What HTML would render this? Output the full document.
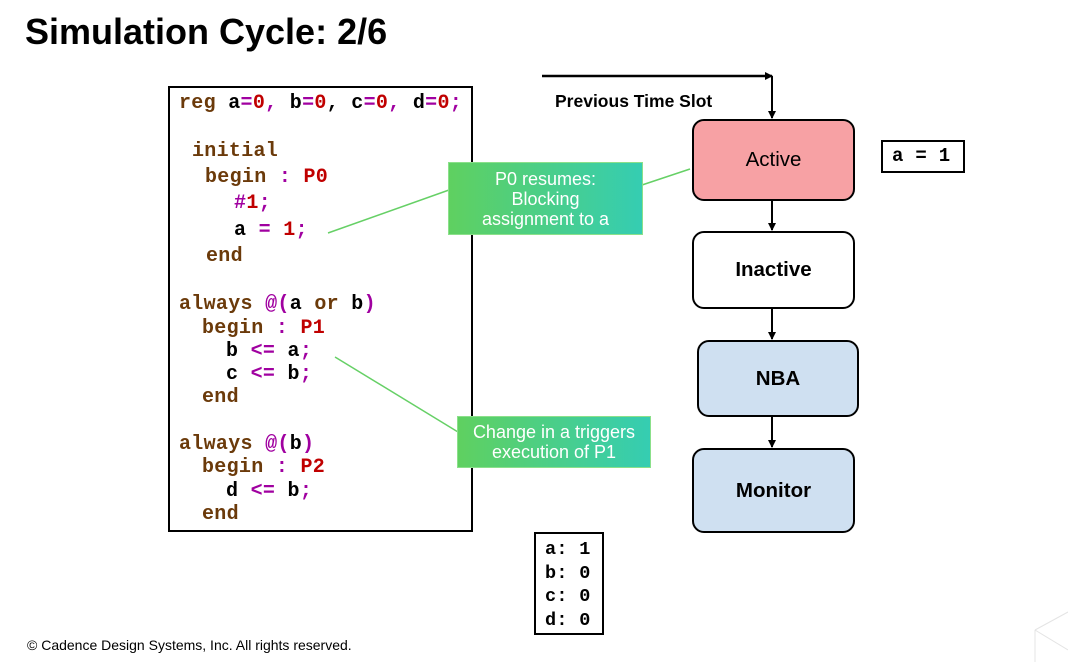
<!DOCTYPE html>
<html><head><meta charset="utf-8"><style>
*{margin:0;padding:0;box-sizing:border-box}
body{width:1068px;height:662px;background:#fff;position:relative;overflow:hidden;font-family:"Liberation Sans",sans-serif}
.a{position:absolute}
.code{position:absolute;font-family:"Liberation Mono",monospace;font-weight:bold;font-size:20px;letter-spacing:0.3px;white-space:pre;line-height:20px;color:#000}
.k{color:#6b3a0a}.o{color:#a000a0}.n{color:#c00000}
.box{position:absolute;border:2px solid #000;border-radius:12px;display:flex;align-items:center;justify-content:center;font-size:20.5px;color:#000}
.call{position:absolute;background:linear-gradient(90deg,#5fd060,#35cdb2);border:1px solid #8be08a;color:#fff;font-size:18px;text-align:center;line-height:20px;display:flex;align-items:center;justify-content:center;white-space:nowrap}
</style></head><body>
<div class="a" style="left:25px;top:11px;font-size:36px;font-weight:bold">Simulation Cycle: 2/6</div>
<div class="a" style="left:168px;top:86px;width:305px;height:446px;border:2px solid #000"></div>
<div class="code" style="left:179px;top:94px"><span class="k">reg</span> a<span class="o">=</span><span class="n">0</span><span class="o">,</span> b<span class="o">=</span><span class="n">0</span>, c<span class="o">=</span><span class="n">0</span><span class="o">,</span> d<span class="o">=</span><span class="n">0</span><span class="o">;</span></div>
<div class="code k" style="left:192px;top:142px">initial</div>
<div class="code" style="left:205px;top:168px"><span class="k">begin</span> <span class="o">:</span> <span class="n">P0</span></div>
<div class="code" style="left:234px;top:194px"><span class="o">#</span><span class="n">1</span><span class="o">;</span></div>
<div class="code" style="left:234px;top:221px">a <span class="o">=</span> <span class="n">1</span><span class="o">;</span></div>
<div class="code k" style="left:206px;top:247px">end</div>
<div class="code" style="left:179px;top:295px"><span class="k">always</span> <span class="o">@(</span>a <span class="k">or</span> b<span class="o">)</span></div>
<div class="code" style="left:202px;top:319px"><span class="k">begin</span> <span class="o">:</span> <span class="n">P1</span></div>
<div class="code" style="left:226px;top:342px">b <span class="o">&lt;=</span> a<span class="o">;</span></div>
<div class="code" style="left:226px;top:365px">c <span class="o">&lt;=</span> b<span class="o">;</span></div>
<div class="code k" style="left:202px;top:388px">end</div>
<div class="code" style="left:179px;top:435px"><span class="k">always</span> <span class="o">@(</span>b<span class="o">)</span></div>
<div class="code" style="left:202px;top:458px"><span class="k">begin</span> <span class="o">:</span> <span class="n">P2</span></div>
<div class="code" style="left:226px;top:482px">d <span class="o">&lt;=</span> b<span class="o">;</span></div>
<div class="code k" style="left:202px;top:505px">end</div>

<svg class="a" style="left:0;top:0" width="1068" height="662">
<defs><marker id="m" markerWidth="8" markerHeight="8" refX="7" refY="4" orient="auto" markerUnits="userSpaceOnUse"><path d="M0,0 L8,4 L0,8z" fill="#000"/></marker></defs>
<line x1="542" y1="76" x2="772" y2="76" stroke="#000" stroke-width="2.5" marker-end="url(#m)"/>
<line x1="772" y1="76" x2="772" y2="118" stroke="#000" stroke-width="2" marker-end="url(#m)"/>
<line x1="772" y1="200" x2="772" y2="230" stroke="#000" stroke-width="2" marker-end="url(#m)"/>
<line x1="772" y1="308" x2="772" y2="339" stroke="#000" stroke-width="2" marker-end="url(#m)"/>
<line x1="772" y1="416" x2="772" y2="447" stroke="#000" stroke-width="2" marker-end="url(#m)"/>
<line x1="328" y1="233" x2="449" y2="190" stroke="#66d066" stroke-width="1.5"/>
<line x1="642" y1="185" x2="690" y2="169" stroke="#66d066" stroke-width="1.5"/>
<line x1="335" y1="357" x2="458" y2="432" stroke="#66d066" stroke-width="1.5"/>
<path d="M1035,630 L1068,612 M1035,630 L1068,650 M1035,630 L1035,662" stroke="#e4e4e4" stroke-width="1" fill="none"/>
</svg>
<div class="a" style="left:555px;top:91px;font-size:17.5px;font-weight:bold">Previous Time Slot</div>
<div class="box" style="left:692px;top:119px;width:163px;height:82px;background:#f7a1a4">Active</div>
<div class="box" style="left:692px;top:231px;width:163px;height:78px;background:#fff;font-weight:bold">Inactive</div>
<div class="box" style="left:697px;top:340px;width:162px;height:77px;background:#cfe0f1;font-weight:bold">NBA</div>
<div class="box" style="left:692px;top:448px;width:163px;height:85px;background:#cfe0f1;font-weight:bold">Monitor</div>
<div class="call" style="left:448px;top:162px;width:195px;height:73px">P0 resumes:<br>Blocking<br>assignment to a</div>
<div class="call" style="left:457px;top:416px;width:194px;height:52px">Change in a triggers<br>execution of P1</div>
<div class="a code" style="left:881px;top:140px;width:84px;height:33px;border:2px solid #000;font-size:19px;line-height:29px;padding-left:9px">a = 1</div>
<div class="a code" style="left:534px;top:532px;width:70px;height:103px;border:2px solid #000;font-size:18.5px;line-height:23.5px;padding:4px 0 0 9px">a: 1
b: 0
c: 0
d: 0</div>
<div class="a" style="left:27px;top:637px;font-size:14px">© Cadence Design Systems, Inc. All rights reserved.</div>
</body></html>
